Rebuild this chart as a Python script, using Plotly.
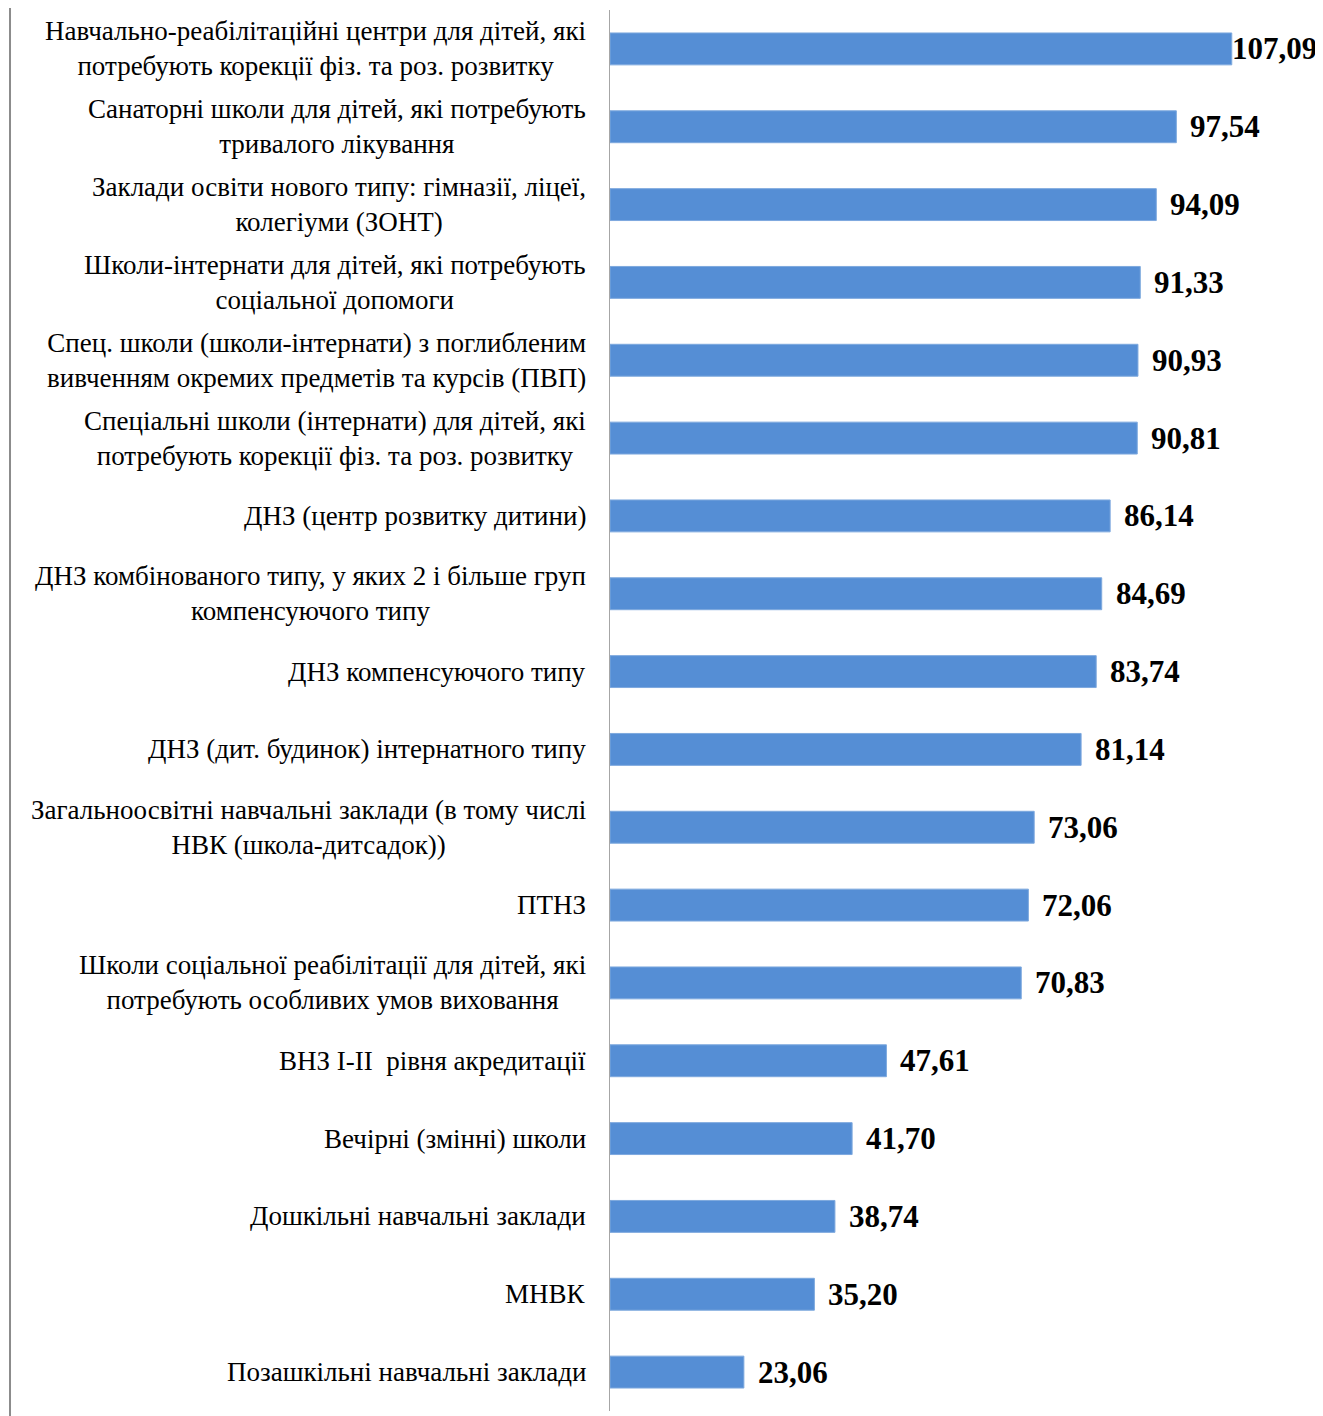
import plotly.graph_objects as go

categories = [
    "Навчально-реабілітаційні центри для дітей, які<br>потребують корекції фіз. та роз. розвитку",
    "Санаторні школи для дітей, які потребують<br>тривалого лікування",
    "Заклади освіти нового типу: гімназії, ліцеї,<br>колегіуми (ЗОНТ)",
    "Школи-інтернати для дітей, які потребують<br>соціальної допомоги",
    "Спец. школи (школи-інтернати) з поглибленим<br>вивченням окремих предметів та курсів (ПВП)",
    "Спеціальні школи (інтернати) для дітей, які<br>потребують корекції фіз. та роз. розвитку",
    "ДНЗ (центр розвитку дитини)",
    "ДНЗ комбінованого типу, у яких 2 і більше груп<br>компенсуючого типу",
    "ДНЗ компенсуючого типу",
    "ДНЗ (дит. будинок) інтернатного типу",
    "Загальноосвітні навчальні заклади (в тому числі<br>НВК (школа-дитсадок))",
    "ПТНЗ",
    "Школи соціальної реабілітації для дітей, які<br>потребують особливих умов виховання",
    "ВНЗ І-ІІ  рівня акредитації",
    "Вечірні (змінні) школи",
    "Дошкільні навчальні заклади",
    "МНВК",
    "Позашкільні навчальні заклади",
]
values = [107.09, 97.54, 94.09, 91.33, 90.93, 90.81, 86.14, 84.69, 83.74,
          81.14, 73.06, 72.06, 70.83, 47.61, 41.70, 38.74, 35.20, 23.06]
value_labels = [f"{v:.2f}".replace(".", ",") for v in values]

keys = [str(i) for i in range(len(categories))]

fig = go.Figure()
fig.add_trace(go.Bar(
    y=keys, x=values, orientation="h",
    marker=dict(color="#558ED5", line=dict(color="#7EA9DE", width=1)),
    width=0.41, hoverinfo="skip",
))

serif = "Liberation Serif, Times New Roman, serif"
vmax = max(values)
for k, cat, v, lab in zip(keys, categories, values, value_labels):
    fig.add_annotation(
        x=0, xref="paper", y=k, yref="y", text=cat, showarrow=False,
        xanchor="right", yanchor="middle", align="center", xshift=-22,
        font=dict(family=serif, size=27, color="#000000"),
    )
    fig.add_annotation(
        x=v, xref="x", y=k, yref="y", text=f"<b>{lab}</b>", showarrow=False,
        xanchor="left", yanchor="middle", xshift=(-2 if v == vmax else 12),
        font=dict(family=serif, size=31, color="#000000"),
    )

# left frame border
fig.add_shape(type="line", xref="paper", yref="paper",
              x0=-0.8415, x1=-0.8415, y0=-0.004, y1=1.008,
              line=dict(color="#8C8C8C", width=2))

fig.update_layout(
    width=1315, height=1408,
    margin=dict(l=602, r=0, t=2, b=5),
    paper_bgcolor="white", plot_bgcolor="white",
    showlegend=False,
    bargap=0.59,
)
fig.update_xaxes(range=[0, 122.8], visible=False, fixedrange=True)
fig.update_yaxes(
    categoryorder="array", categoryarray=keys, autorange="reversed",
    showticklabels=False, ticks="", showgrid=False, zeroline=False,
    showline=True, linecolor="#A6A6A6", linewidth=1,
)

fig.write_html("out.html")
